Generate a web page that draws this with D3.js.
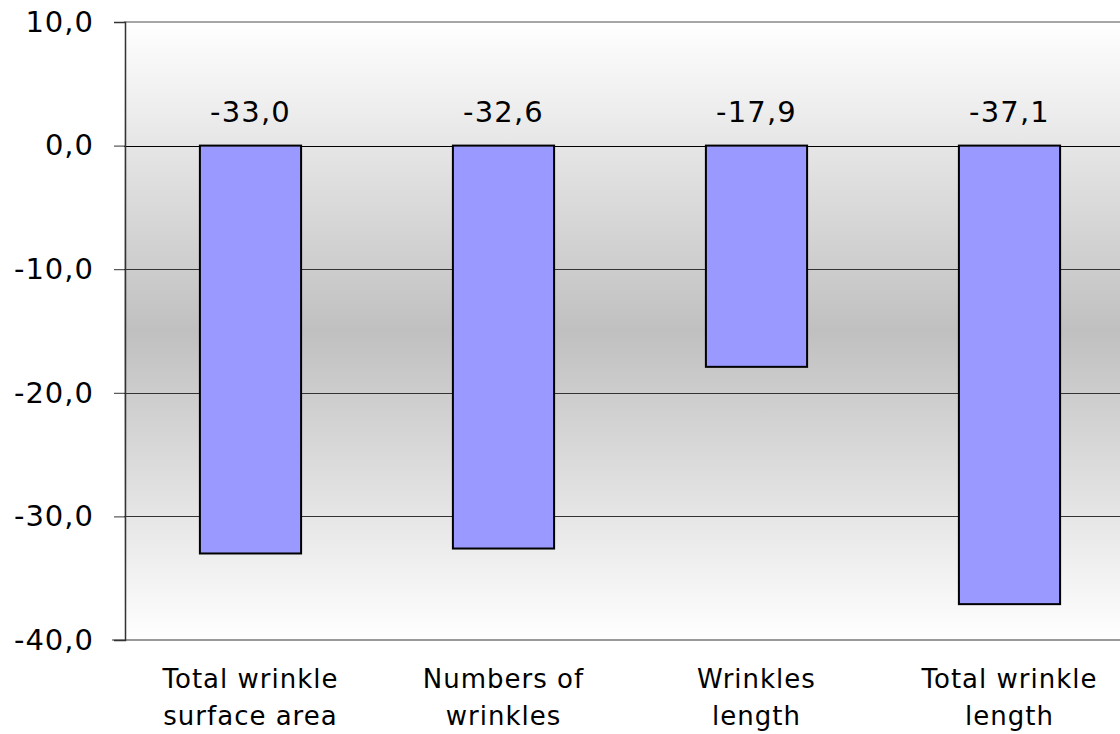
<!DOCTYPE html>
<html><head><meta charset="utf-8">
<script src="https://cdn.jsdelivr.net/npm/d3@7"></script>
<style>body{margin:0;background:#fff}svg{display:block}</style>
</head><body><svg id="c" width="1120" height="734"></svg>
<script>
const categories = [["Total wrinkle","surface area"],["Numbers of","wrinkles"],["Wrinkles","length"],["Total wrinkle","length"]];
const values = [-33.0, -32.6, -17.9, -37.1];
const yTicks = [10, 0, -10, -20, -30, -40];

(function(){
const svg = d3.select("#c");
const pl = 124, pr = 1136, pt = 22, pb = 640;
const fmt = v => v.toFixed(1).replace(".", ",");

const x = d3.scaleBand().domain(d3.range(categories.length)).range([pl, pr]).paddingInner(0.6).paddingOuter(0.3);
const y = d3.scaleLinear().domain([-40, 10]).range([pb, pt]);

const defs = svg.append("defs");
const g = defs.append("linearGradient").attr("id","bg").attr("x1",0).attr("y1",0).attr("x2",0).attr("y2",1);
g.append("stop").attr("offset","0%").attr("stop-color","#ffffff");
g.append("stop").attr("offset","50%").attr("stop-color","#c0c0c0");
g.append("stop").attr("offset","100%").attr("stop-color","#ffffff");

svg.append("rect").attr("x", pl).attr("y", pt).attr("width", pr-pl).attr("height", pb-pt).attr("fill","url(#bg)");

svg.append("g").selectAll("line").data(yTicks.filter(t => t !== -40 && t !== 10)).join("line")
  .attr("x1", pl).attr("x2", pr).attr("y1", d => Math.round(y(d))+0.5).attr("y2", d => Math.round(y(d))+0.5)
  .attr("stroke", d => d === 0 ? "#000" : "#333").attr("stroke-width", 1);
svg.append("line").attr("x1", pl).attr("x2", pr).attr("y1", y(10)).attr("y2", y(10)).attr("stroke","#888").attr("stroke-width",1.5);
svg.append("line").attr("x1", pl-12).attr("x2", pr).attr("y1", y(-40)).attr("y2", y(-40)).attr("stroke","#777").attr("stroke-width",1.5);

svg.append("g").selectAll("rect").data(values).join("rect")
  .attr("x", (d,i) => x(i)).attr("width", x.bandwidth())
  .attr("y", d => y(Math.max(0,d))).attr("height", d => Math.abs(y(d)-y(0)))
  .attr("fill","#9999ff").attr("stroke","#000").attr("stroke-width",2);

const ya = d3.axisLeft(y).tickValues(yTicks).tickFormat(fmt).tickSize(11).tickPadding(20);
const yg = svg.append("g").attr("transform", `translate(${pl+1},0)`).call(ya);
yg.select(".domain").attr("stroke","#333").attr("stroke-width",1.5);
yg.selectAll(".tick line").attr("stroke","#333").attr("stroke-width",1);
yg.selectAll("text").attr("font-family","DejaVu Sans, Verdana, sans-serif").attr("font-size",29).attr("fill","#000").attr("letter-spacing","1px");

svg.append("g").selectAll("text").data(values).join("text")
  .attr("x", (d,i) => x(i) + x.bandwidth()/2).attr("y", y(0) - 24)
  .attr("text-anchor","middle").attr("font-family","DejaVu Sans, Verdana, sans-serif").attr("font-size",29).attr("letter-spacing","1.2px")
  .text(fmt);

const cl = svg.append("g").selectAll("text").data(categories).join("text")
  .attr("text-anchor","middle").attr("font-family","DejaVu Sans, Verdana, sans-serif").attr("font-size",26).attr("letter-spacing","1px");
cl.selectAll("tspan").data((d,i) => d.map((s,j) => ({s, i, j}))).join("tspan")
  .attr("x", d => x(d.i) + x.bandwidth()/2).attr("y", d => 688 + d.j*37).text(d => d.s);
})();
</script></body></html>
